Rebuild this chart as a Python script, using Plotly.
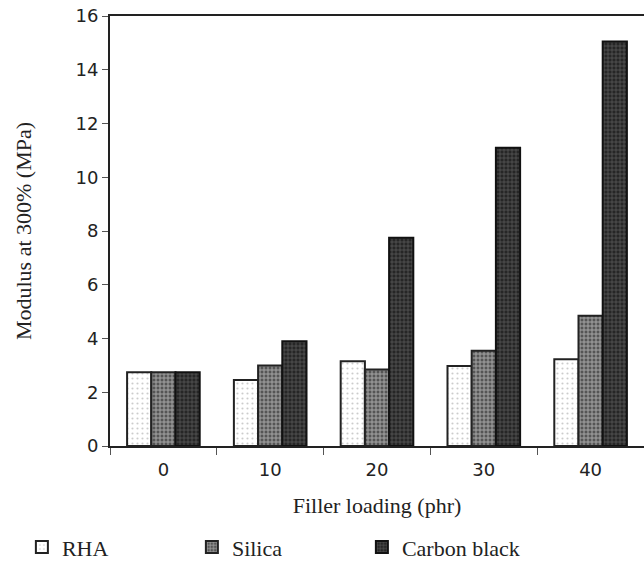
import plotly.graph_objects as go

categories = ["0", "10", "20", "30", "40"]
rha = [2.74, 2.46, 3.15, 2.98, 3.23]
silica = [2.74, 3.0, 2.85, 3.54, 4.85]
carbon_black = [2.74, 3.9, 7.75, 11.1, 15.05]
y_ticks = [0, 2, 4, 6, 8, 10, 12, 14, 16]

serif = "Liberation Serif"
sans = "DejaVu Sans"

fig = go.Figure()
fig.add_trace(go.Bar(
    name="RHA", x=categories, y=rha,
    marker=dict(color="white", line=dict(color="#222", width=2),
                pattern=dict(shape=".", fgcolor="#999", bgcolor="white", size=5, solidity=0.15)),
))
fig.add_trace(go.Bar(
    name="Silica", x=categories, y=silica,
    marker=dict(color="#666", line=dict(color="#222", width=2),
                pattern=dict(shape="+", fgcolor="#f2f2f2", bgcolor="#555", size=4, solidity=0.45)),
))
fig.add_trace(go.Bar(
    name="Carbon black", x=categories, y=carbon_black,
    marker=dict(color="#333", line=dict(color="#111", width=2),
                pattern=dict(shape="+", fgcolor="#999", bgcolor="#262626", size=4, solidity=0.3)),
))

fig.update_layout(
    width=644, height=569,
    margin=dict(l=110, r=0, t=16, b=123, autoexpand=False),
    paper_bgcolor="white", plot_bgcolor="white",
    barmode="group", bargap=0.32, bargroupgap=0,
    showlegend=True,
    legend=dict(orientation="h", x=-0.165, xanchor="left", y=-0.284, yanchor="bottom",
                font=dict(family=serif, size=22, color="#222"),
                entrywidth=125, entrywidthmode="pixels", itemwidth=30, traceorder="normal"),
    xaxis=dict(
        type="category", showline=True, linecolor="#222", linewidth=2, mirror=True,
        ticks="outside", tickson="boundaries", ticklen=7, tickcolor="#555", tickwidth=1,
        ticklabelstandoff=6, automargin=False,
        tickfont=dict(family=sans, size=18, color="#222"),
        title=dict(text="Filler loading (phr)", font=dict(family=serif, size=22, color="#222"), standoff=19),
        showgrid=False,
    ),
    yaxis=dict(
        range=[0, 16], tickvals=y_ticks, showline=True, linecolor="#222", linewidth=2,
        ticks="outside", ticklen=6, tickcolor="#555", tickwidth=1, automargin=False,
        tickfont=dict(family=sans, size=18, color="#222"),
        title=dict(text="Modulus at 300% (MPa)", font=dict(family=serif, size=22, color="#222"), standoff=38),
        showgrid=False, zeroline=False,
    ),
)

fig.write_html("out.html")
